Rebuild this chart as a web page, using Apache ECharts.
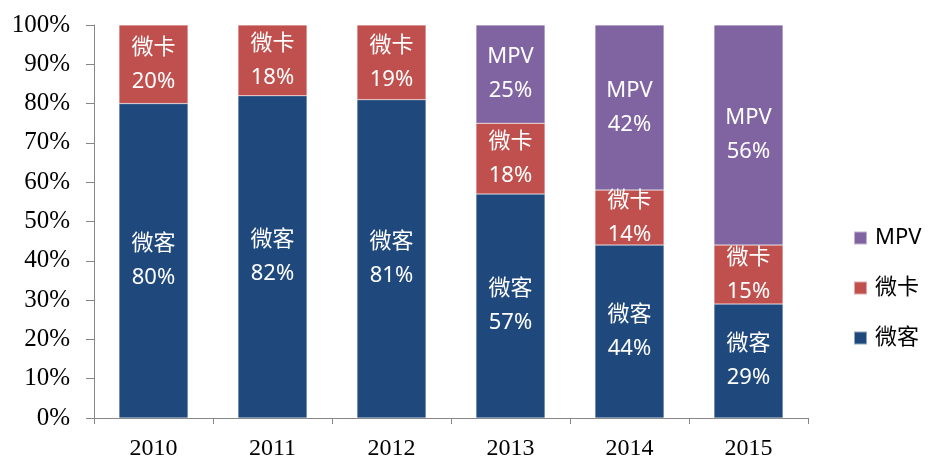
<!DOCTYPE html>
<html><head><meta charset="utf-8">
<script src="https://cdn.jsdelivr.net/npm/echarts@6/dist/echarts.min.js"></script>
<style>html,body{margin:0;padding:0;background:#fff}#c{width:928px;height:461px}</style>
</head><body><div id="c"></div>
<script>
var categories = ['2010','2011','2012','2013','2014','2015'];
var weike = [80, 82, 81, 57, 44, 29];
var weika = [20, 18, 19, 18, 14, 15];
var mpv = [null, null, null, 25, 42, 56];
var yTicks = [0,10,20,30,40,50,60,70,80,90,100];

var chart = echarts.init(document.getElementById('c'));
var labelFont = '"Noto Sans", "Noto Sans CJK SC", sans-serif';
function mk(name, data, color) {
  return {
    name: name, type: 'bar', stack: 'a', data: data, barWidth: '58%',
    itemStyle: { color: color, borderColor: 'rgba(255,255,255,0.5)', borderWidth: 0.5 },
    label: {
      show: true, position: 'inside', color: '#fff', fontSize: 22, lineHeight: 34,
      fontFamily: labelFont,
      formatter: function (p) { return p.value == null ? '' : name + '\n' + p.value + '%'; }
    }
  };
}
chart.setOption({
  animation: false,
  grid: { left: 94, right: 120, top: 25, bottom: 43 },
  legend: {
    orient: 'vertical', left: 853, top: 227, padding: 0, itemWidth: 13, itemHeight: 13, itemGap: 28,
    icon: 'rect', data: ['MPV', '微卡', '微客'],
    textStyle: { fontSize: 22, color: '#000', fontFamily: labelFont, padding: [0, 0, 0, 3] }
  },
  xAxis: {
    type: 'category', data: categories,
    axisLine: { lineStyle: { color: '#868686' } },
    axisTick: { show: true, length: 6, lineStyle: { color: '#868686' } },
    axisLabel: { fontSize: 24, color: '#000', fontFamily: '"Liberation Serif", serif', margin: 19 }
  },
  yAxis: {
    type: 'value', min: 0, max: 100, interval: 10,
    axisLine: { show: true, lineStyle: { color: '#868686' } },
    axisTick: { show: true, inside: false, length: 8, lineStyle: { color: '#868686' } },
    splitLine: { show: false },
    axisLabel: { fontSize: 25, color: '#000', fontFamily: '"Liberation Serif", serif', margin: 24,
      formatter: function (v) { return yTicks.indexOf(v) >= 0 ? v + '%' : ''; } }
  },
  series: [
    mk('微客', weike, '#1F497D'),
    mk('微卡', weika, '#C0504D'),
    mk('MPV', mpv, '#8064A2')
  ]
});
</script></body></html>
